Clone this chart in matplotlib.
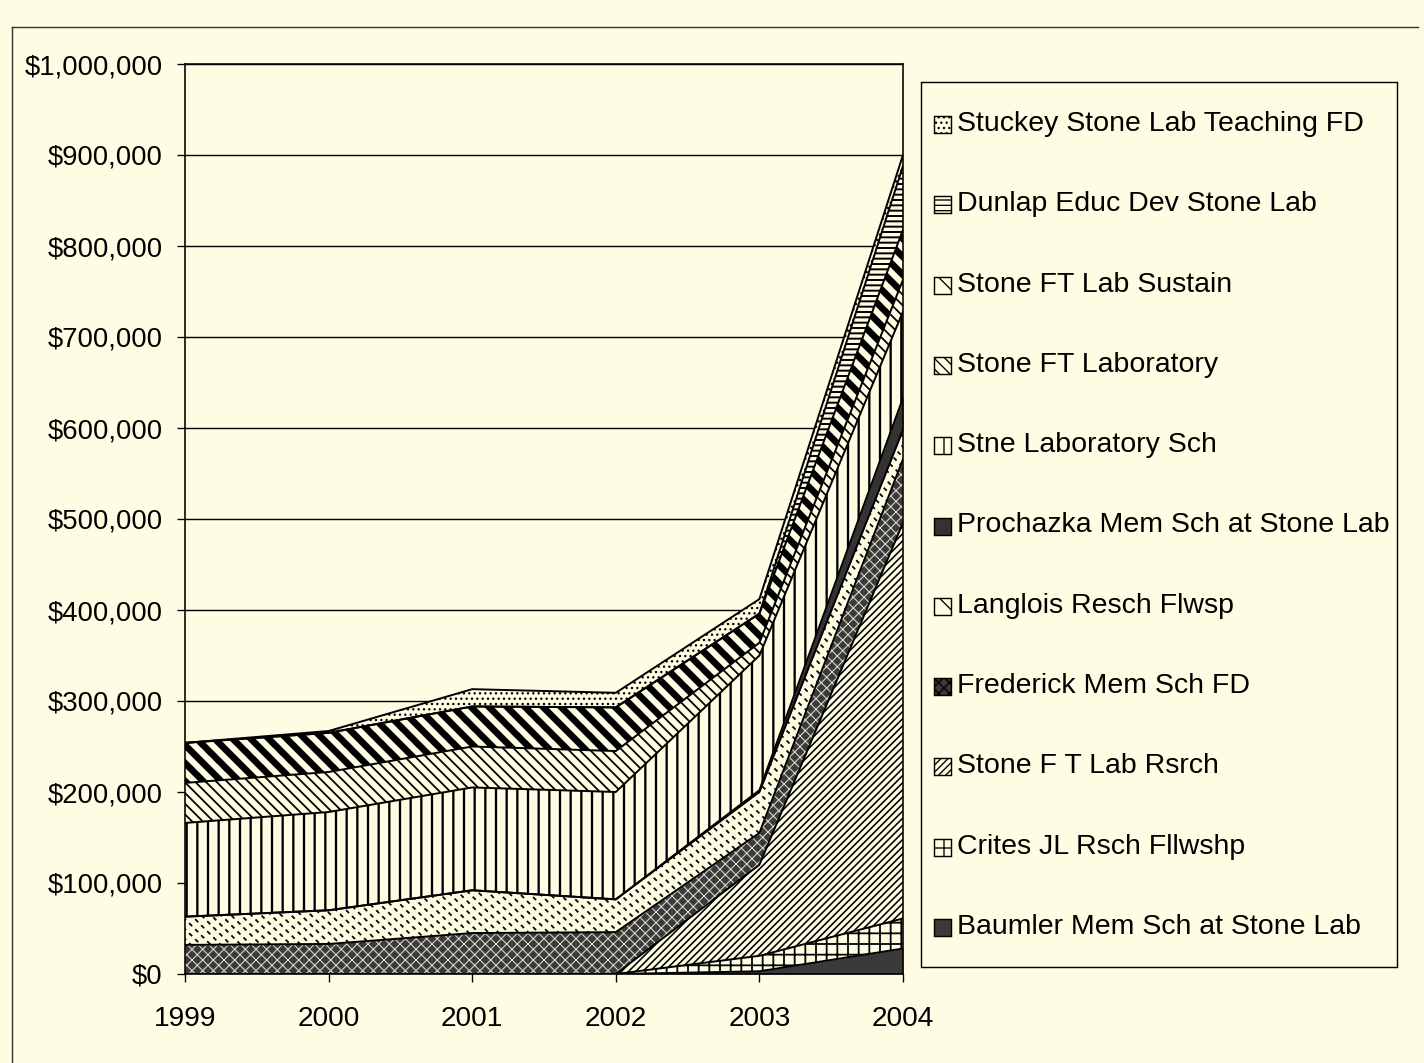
import matplotlib
matplotlib.use("Agg")
import matplotlib.pyplot as plt
from matplotlib.patches import Rectangle
from matplotlib.lines import Line2D
from matplotlib.collections import LineCollection
from matplotlib.transforms import IdentityTransform
import numpy as np

plt.rcParams['font.family'] = ['Liberation Sans', 'DejaVu Sans']

# ---------------- data ----------------
years = [1999, 2000, 2001, 2002, 2003, 2004]
# series listed bottom -> top of the stack
baumler    = [0, 0, 0, 0, 3000, 28000]
crites     = [0, 0, 0, 0, 17000, 33000]
rsrch      = [0, 0, 0, 0, 100000, 435000]
frederick  = [32000, 33000, 45000, 46000, 35000, 70000]
langlois   = [31000, 37000, 47000, 36000, 45000, 32000]
prochazka  = [0, 0, 0, 0, 2000, 35000]
stne_sch   = [103000, 108000, 113000, 118000, 148000, 95000]
ft_lab     = [44000, 44000, 45000, 45000, 14000, 35000]
sustain    = [44000, 43000, 44000, 48000, 32000, 55000]
dunlap     = [0, 0, 0, 0, 0, 70000]
stuckey    = [0, 2000, 19000, 16000, 16000, 12000]

labels = ["Baumler Mem Sch at Stone Lab", "Crites JL Rsch Fllwshp",
          "Stone F T Lab Rsrch", "Frederick Mem Sch FD", "Langlois Resch Flwsp",
          "Prochazka Mem Sch at Stone Lab", "Stne Laboratory Sch",
          "Stone FT Laboratory", "Stone FT Lab Sustain",
          "Dunlap Educ Dev Stone Lab", "Stuckey Stone Lab Teaching FD"]
series = [baumler, crites, rsrch, frederick, langlois, prochazka,
          stne_sch, ft_lab, sustain, dunlap, stuckey]
yticks = [0, 100000, 200000, 300000, 400000, 500000, 600000, 700000,
          800000, 900000, 1000000]

# ---------------- style ----------------
BG = '#FEFDE3'
# 'custom' entries: (spacing px, linewidth pt, dashes or None)
styles = [
    dict(fc='#3a3a3a', hatch=None, hc='#3a3a3a', hlw=1.0),   # Baumler
    dict(fc=BG, hatch='+', hc='black', hlw=2.0),              # Crites
    dict(fc=BG, hatch='///', hc='black', hlw=1.8),            # Rsrch
    dict(fc='#3a3a3a', hatch='xx', hc='#d0d0c0', hlw=1.3),    # Frederick
    dict(fc=BG, hatch=None, hc='black', hlw=1.6,
         custom=(10, 2.0, (2.4, 2.4))),                       # Langlois
    dict(fc='#333333', hatch=None, hc='#333333', hlw=1.0),    # Prochazka
    dict(fc=BG, hatch='|', hc='black', hlw=2.6),              # Stne Lab Sch
    dict(fc=BG, hatch='\\\\', hc='black', hlw=2.0),           # FT Lab
    dict(fc=BG, hatch=None, hc='black', hlw=5.0,
         custom=(18, 7.5, None)),                             # Sustain
    dict(fc=BG, hatch='--', hc='black', hlw=2.2),             # Dunlap
    dict(fc=BG, hatch='..', hc='black', hlw=1.5),             # Stuckey
]
legend_hatch = [None, '+', '///', 'xx', '\\', None, '|', '\\\\', '\\', '--', '..']

DPI = 64
W, H = 1424, 1063
fig = plt.figure(figsize=(W / DPI, H / DPI), dpi=DPI, facecolor=BG)

def fx(px):
    return px / W

def fy(py):
    return 1 - py / H

ax = fig.add_axes([fx(185), fy(974), fx(903) - fx(185), fy(64) - fy(974)])
ax.set_facecolor(BG)
ax.set_xlim(1999, 2004)
ax.set_ylim(0, 1000000)

def set_hlw(art, lw):
    if hasattr(art, 'set_hatch_linewidth'):
        try:
            art.set_hatch_linewidth(lw)
        except Exception:
            pass

def custom_hatch(coll, spacing, lw, dashes):
    bb = ax.bbox
    x0, x1, y0, y1 = bb.x0, bb.x1, bb.y0, bb.y1
    segs = []
    c = x0 + y0 - 5
    while c < x1 + y1 + 5:
        xa, xb = x0 - 20, x1 + 20
        segs.append([(xa, c - xa), (xb, c - xb)])
        c += spacing
    lc = LineCollection(segs, colors='black', linewidths=lw,
                        transform=IdentityTransform(), zorder=2.5,
                        capstyle='butt')
    if dashes is not None:
        lc.set_linestyle((0, dashes))
    path = coll.get_paths()[0]
    lc.set_clip_path(path, ax.transData)
    ax.add_collection(lc, autolim=False)

x = np.array(years, dtype=float)
base = np.zeros(len(years))
for vals, st in zip(series, styles):
    top = base + np.array(vals, dtype=float)
    with plt.rc_context({'hatch.linewidth': st['hlw'], 'hatch.color': st['hc']}):
        coll = ax.fill_between(x, base, top, facecolor=st['fc'],
                               edgecolor=st['hc'], hatch=st['hatch'],
                               linewidth=0, zorder=2)
    set_hlw(coll, st['hlw'])
    if 'custom' in st:
        custom_hatch(coll, *st['custom'])
    ax.plot(x, top, color='black', lw=2.2, zorder=3)
    base = top

ax.set_xlim(1999, 2004)
ax.set_ylim(0, 1000000)
ax.set_yticks(yticks)
ax.set_yticklabels(['${:,.0f}'.format(v) for v in yticks])
ax.set_xticks(years)
ax.set_xticklabels([str(y) for y in years])
ax.yaxis.grid(True, color='black', lw=1.6, zorder=1)
ax.set_axisbelow(True)
for s in ax.spines.values():
    s.set_color('black')
    s.set_linewidth(1.8)
ax.tick_params(axis='y', direction='out', length=9, width=1.5, pad=16,
               labelsize=31)
ax.tick_params(axis='x', direction='out', length=9, width=1.5, pad=27,
               labelsize=31.5)

# outer chart border
fig.add_artist(Line2D([fx(12), fx(1418)], [fy(27), fy(27)], color='#333333',
                      lw=1.6, transform=fig.transFigure))
fig.add_artist(Line2D([fx(12), fx(12)], [fy(27), fy(1063)], color='#333333',
                      lw=1.6, transform=fig.transFigure))

# legend box (drawn manually)
fig.add_artist(Rectangle((fx(921), fy(967)), fx(1397) - fx(921),
                         fy(82) - fy(967), transform=fig.transFigure,
                         fill=False, edgecolor='black', lw=1.6))
entry_y0 = 124
step = 80.3
for i, (lab, st, lh) in enumerate(zip(labels[::-1], styles[::-1],
                                      legend_hatch[::-1])):
    yc = entry_y0 + i * step
    with plt.rc_context({'hatch.linewidth': 1.5, 'hatch.color': st['hc']}):
        r = Rectangle((fx(934), fy(yc + 9)), fx(17), fy(0) - fy(17),
                      transform=fig.transFigure, facecolor=st['fc'],
                      edgecolor='black', hatch=lh, lw=1.6)
    set_hlw(r, 1.5)
    fig.add_artist(r)
    fig.text(fx(957), fy(yc), lab, fontsize=32, va='center', ha='left',
             color='black')

fig.savefig('out.png', dpi=DPI, facecolor=BG)
